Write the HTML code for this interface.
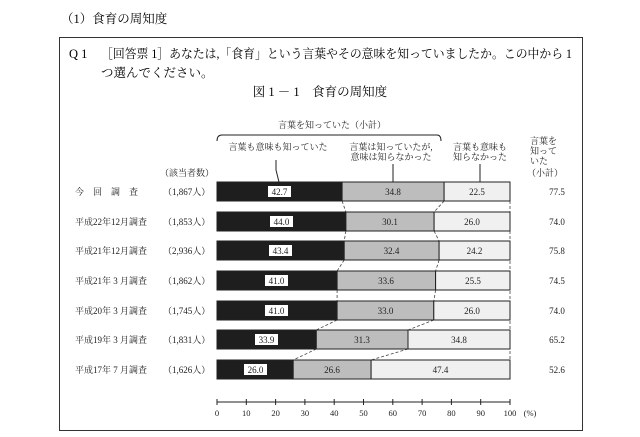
<!DOCTYPE html>
<html><head><meta charset="utf-8"><style>
body{margin:0;background:#fff;}
svg{display:block;font-family:"Liberation Serif","Noto Serif CJK SC",serif;}
</style></head><body>
<svg width="640" height="437" viewBox="0 0 640 437" xmlns="http://www.w3.org/2000/svg">
<rect width="640" height="437" fill="#fff"/>
<text x="61" y="23" font-size="12.5">（1）食育の周知度</text>
<rect x="59.5" y="37.5" width="523" height="393" fill="none" stroke="#333" stroke-width="1"/>
<text x="69" y="58" font-size="12.5">Q 1</text>
<text x="101" y="58" font-size="12.5" textLength="471" lengthAdjust="spacingAndGlyphs">［回答票 1］あなたは,「食育」という言葉やその意味を知っていましたか。この中から 1</text>
<text x="101" y="77" font-size="12.5">つ選んでください。</text>
<text x="320" y="96" font-size="12.5" text-anchor="middle">図 1 － 1　食育の周知度</text>
<g font-size="9" fill="#222">
<text x="332" y="128" text-anchor="middle">言葉を知っていた（小計）</text>
<path d="M217,141 Q217,135 222,135 L437,135 Q441,135 441,141" fill="none" stroke="#222" stroke-width="1"/>
<text x="278" y="150" text-anchor="middle">言葉も意味も知っていた</text>
<text x="391" y="150" text-anchor="middle">言葉は知っていたが,</text>
<text x="391" y="160" text-anchor="middle">意味は知らなかった</text>
<text x="480" y="150" text-anchor="middle">言葉も意味も</text>
<text x="480" y="160" text-anchor="middle">知らなかった</text>
<text x="530" y="144">言葉を</text>
<text x="530" y="154">知って</text>
<text x="530" y="164">いた</text>
<text x="527" y="176">（小計）</text>
<text x="160" y="176">（該当者数）</text>
<path d="M276,160 L276,170 L279,182 M393,164 L393,182 M480,164 L480,182" fill="none" stroke="#222"/>
</g>
<g stroke="#444" stroke-dasharray="3,2" stroke-width="0.8" fill="none">
<path d="M342.1,201 L345.9,212 M444.1,201 L434.1,212"/>
<path d="M345.9,231 L344.2,241 M434.1,231 L439.1,241"/>
<path d="M344.2,260 L337.1,271 M439.1,260 L435.6,271"/>
<path d="M337.1,290 L337.1,301 M435.6,290 L433.8,301"/>
<path d="M337.1,320 L316.3,330 M433.8,320 L408.0,330"/>
<path d="M316.3,349 L293.2,360 M408.0,349 L371.1,360"/>
<path d="M510,201 L510,360"/>
</g>
<g stroke="#222" stroke-width="1">
<rect x="217" y="182" width="125.1" height="19" fill="#1e1e1e"/><rect x="342.1" y="182" width="102" height="19" fill="#bdbdbd"/><rect x="444.1" y="182" width="65.9" height="19" fill="#f0f0f0"/>
<rect x="217" y="212" width="128.9" height="19" fill="#1e1e1e"/><rect x="345.9" y="212" width="88.2" height="19" fill="#bdbdbd"/><rect x="434.1" y="212" width="75.9" height="19" fill="#f0f0f0"/>
<rect x="217" y="241" width="127.2" height="19" fill="#1e1e1e"/><rect x="344.2" y="241" width="94.9" height="19" fill="#bdbdbd"/><rect x="439.1" y="241" width="70.9" height="19" fill="#f0f0f0"/>
<rect x="217" y="271" width="120.1" height="19" fill="#1e1e1e"/><rect x="337.1" y="271" width="98.5" height="19" fill="#bdbdbd"/><rect x="435.6" y="271" width="74.4" height="19" fill="#f0f0f0"/>
<rect x="217" y="301" width="120.1" height="19" fill="#1e1e1e"/><rect x="337.1" y="301" width="96.7" height="19" fill="#bdbdbd"/><rect x="433.8" y="301" width="76.2" height="19" fill="#f0f0f0"/>
<rect x="217" y="330" width="99.3" height="19" fill="#1e1e1e"/><rect x="316.3" y="330" width="91.7" height="19" fill="#bdbdbd"/><rect x="408" y="330" width="102" height="19" fill="#f0f0f0"/>
<rect x="217" y="360" width="76.2" height="19" fill="#1e1e1e"/><rect x="293.2" y="360" width="77.9" height="19" fill="#bdbdbd"/><rect x="371.1" y="360" width="138.9" height="19" fill="#f0f0f0"/>
</g>
<g fill="#fff">
<rect x="268" y="186" width="23" height="11"/><rect x="270" y="216" width="23" height="11"/><rect x="269" y="245" width="23" height="11"/>
<rect x="265" y="275" width="23" height="11"/><rect x="265" y="305" width="23" height="11"/><rect x="255" y="334" width="23" height="11"/><rect x="244" y="364" width="23" height="11"/>
</g>
<g font-size="9" fill="#222" text-anchor="middle">
<text x="279.5" y="195">42.7</text><text x="393" y="195">34.8</text><text x="477" y="195">22.5</text><text x="557" y="195">77.5</text>
<text x="281.5" y="225">44.0</text><text x="390" y="225">30.1</text><text x="472" y="225">26.0</text><text x="557" y="225">74.0</text>
<text x="280.5" y="254">43.4</text><text x="391.5" y="254">32.4</text><text x="474.5" y="254">24.2</text><text x="557" y="254">75.8</text>
<text x="276.5" y="284">41.0</text><text x="386" y="284">33.6</text><text x="473" y="284">25.5</text><text x="557" y="284">74.5</text>
<text x="276.5" y="314">41.0</text><text x="385.5" y="314">33.0</text><text x="472" y="314">26.0</text><text x="557" y="314">74.0</text>
<text x="266.5" y="343">33.9</text><text x="362" y="343">31.3</text><text x="459" y="343">34.8</text><text x="557" y="343">65.2</text>
<text x="255.5" y="373">26.0</text><text x="332" y="373">26.6</text><text x="440.5" y="373">47.4</text><text x="557" y="373">52.6</text>
</g>
<g font-size="9" fill="#222">
<text x="75" y="195" letter-spacing="9">今回調査</text><text x="163" y="195">（1,867人）</text>
<text x="75" y="225">平成22年12月調査</text><text x="163" y="225">（1,853人）</text>
<text x="75" y="254">平成21年12月調査</text><text x="163" y="254">（2,936人）</text>
<text x="75" y="284">平成21年 3 月調査</text><text x="163" y="284">（1,862人）</text>
<text x="75" y="314">平成20年 3 月調査</text><text x="163" y="314">（1,745人）</text>
<text x="75" y="343">平成19年 3 月調査</text><text x="163" y="343">（1,831人）</text>
<text x="75" y="373">平成17年 7 月調査</text><text x="163" y="373">（1,626人）</text>
</g>
<g stroke="#222" stroke-width="1">
<line x1="217" y1="402" x2="510" y2="402"/>
<path d="M217,399V405M246.3,399V405M275.6,399V405M304.9,399V405M334.2,399V405M363.5,399V405M392.8,399V405M422.1,399V405M451.4,399V405M480.7,399V405M510,399V405"/>
</g>
<g font-size="8.5" fill="#222" text-anchor="middle">
<text x="217" y="416">0</text><text x="246.3" y="416">10</text><text x="275.6" y="416">20</text><text x="304.9" y="416">30</text><text x="334.2" y="416">40</text><text x="363.5" y="416">50</text><text x="392.8" y="416">60</text><text x="422.1" y="416">70</text><text x="451.4" y="416">80</text><text x="480.7" y="416">90</text><text x="510" y="416">100</text><text x="530" y="416">(%)</text>
</g>
</svg>
</body></html>
